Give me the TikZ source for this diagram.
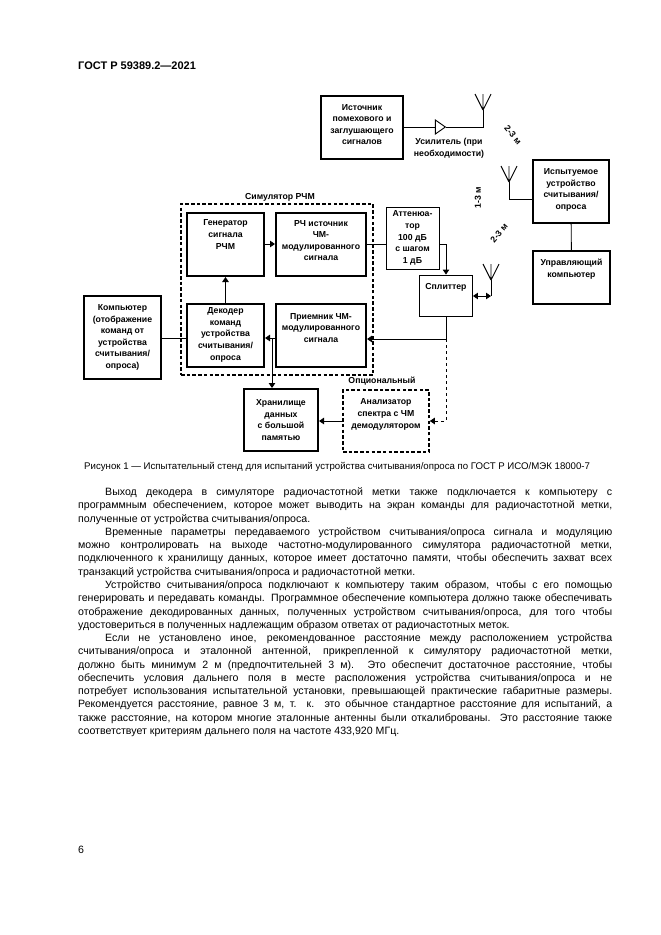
\documentclass[tikz,border=0pt]{standalone}
\usepackage{fontspec}
\setmainfont{Liberation Sans}
\usetikzlibrary{arrows.meta,shapes.geometric,calc}
\newcommand{\dropup}[1]{\rule[-#1pt]{0pt}{0pt}}
\newcommand{\antennaat}[1]{\draw[conn] (#1) -- ++(0,-16) (#1) -- ++(-8,-16) (#1) -- ++(8,-16);}
\tikzset{
  lab/.style={font=\bfseries\fontsize{8.7}{11.6}\selectfont,align=center,inner sep=0pt},
  thickbox/.style={draw,line width=2pt,inner sep=0pt,font=\fontsize{8.7}{11.6}\selectfont\bfseries,align=center},
  thinbox/.style={draw,line width=0.9pt,inner sep=0pt,font=\fontsize{8.7}{11.6}\selectfont\bfseries,align=center},
  dashbox/.style={draw,line width=1.6pt,dash pattern=on 3.5pt off 2.2pt,inner sep=0pt,font=\fontsize{8.7}{11.6}\selectfont\bfseries,align=center},
  conn/.style={line width=0.9pt},
  arr/.style={conn,-{Triangle[length=5pt,width=6.5pt]}},
  body/.style={anchor=north west,inner sep=0pt,text width=534pt,font=\fontsize{10.6}{13.27}\selectfont,align=justify},
}
\begin{document}
\begin{tikzpicture}[x=1pt,y=-1pt]
\path[fill=white,use as bounding box] (0,0) rectangle (661,935);
% page text
\node[anchor=west,inner sep=0pt,font=\bfseries\fontsize{11}{13}\selectfont] (hdr) at (78,66) {ГОСТ Р 59389.2—2021};
\node[anchor=west,inner sep=0pt,font=\fontsize{9.65}{11}\selectfont] (cap) at (84,467) {Рисунок 1 — Испытательный стенд для испытаний устройства считывания/опроса по ГОСТ Р ИСО/МЭК 18000-7};
\node[anchor=west,inner sep=0pt,font=\fontsize{10.6}{12}\selectfont] (pg) at (78,850) {6};
\node[body] (txt) at (78,487.5) {\setlength{\parindent}{27pt}\tolerance=10000\hbadness=10000\hfuzz=20pt\indent
Выход декодера в симуляторе радиочастотной метки также подключается к компьютеру с\linebreak
программным обеспечением, которое может выводить на экран команды для радиочастотной метки,\linebreak
полученные от устройства считывания/опроса.\par
Временные параметры передаваемого устройством считывания/опроса сигнала и модуляцию\linebreak
можно контролировать на выходе частотно-модулированного симулятора радиочастотной метки,\linebreak
подключенного к хранилищу данных, которое имеет достаточно памяти, чтобы обеспечить захват всех\linebreak
транзакций устройства считывания/опроса и радиочастотной метки.\par
Устройство считывания/опроса подключают к компьютеру таким образом, чтобы с его помощью\linebreak
генерировать и передавать команды. Программное обеспечение компьютера должно также обеспечивать\linebreak
отображение декодированных данных, полученных устройством считывания/опроса, для того чтобы\linebreak
удостовериться в полученных надлежащим образом ответах от радиочастотных меток.\par
Если не установлено иное, рекомендованное расстояние между расположением устройства\linebreak
считывания/опроса и эталонной антенной, прикрепленной к симулятору радиочастотной метки,\linebreak
должно быть минимум 2 м (предпочтительней 3 м). Это обеспечит достаточное расстояние, чтобы\linebreak
обеспечить условия дальнего поля в месте расположения устройства считывания/опроса и не\linebreak
потребует использования испытательной установки, превышающей практические габаритные размеры.\linebreak
Рекомендуется расстояние, равное 3 м, т. к. это обычное стандартное расстояние для испытаний, а\linebreak
также расстояние, на котором многие эталонные антенны были откалиброваны. Это расстояние также\linebreak
соответствует критериям дальнего поля на частоте 433,920 МГц.\par};
% dashed groups
\node[dashbox,minimum width=192pt,minimum height=171pt] (sim) at (277,289.5) {};
\node[dashbox,minimum width=86pt,minimum height=62pt] (ana) at (386,421) {Анализатор\\спектра с ЧМ\\демодулятором\dropup{15}};
\node[lab] (simlab) at (280,197) {Симулятор РЧМ};
\node[lab] (optlab) at (382,381) {Опциональный};
% boxes
\node[thickbox,minimum width=82pt,minimum height=63pt] (src) at (362,127.5) {Источник\\помехового и\\заглушающего\\сигналов\dropup{6}};
\node[thickbox,minimum width=76pt,minimum height=63pt] (dut) at (571,191.5) {Испытуемое\\устройство\\считывания/\\опроса\dropup{5}};
\node[thickbox,minimum width=77pt,minimum height=53pt] (ctl) at (571.5,277.5) {Управляющий\\компьютер\dropup{19}};
\node[thinbox,minimum width=53pt,minimum height=62pt] (att) at (412.5,238) {Аттенюа-\\тор\\100 дБ\\с шагом\\1 дБ};
\node[thinbox,minimum width=53pt,minimum height=41pt] (spl) at (446,295.5) {Сплиттер\dropup{18}};
\node[thickbox,minimum width=77pt,minimum height=63pt] (gen) at (225.5,244.5) {Генератор\\сигнала\\РЧМ\dropup{20}};
\node[thickbox,minimum width=90pt,minimum height=63pt] (rf) at (321,244.5) {РЧ источник\\ЧМ-\\модулированного\\сигнала\dropup{8}};
\node[thickbox,minimum width=77pt,minimum height=63pt] (dec) at (225.5,335.5) {Декодер\\команд\\устройства\\считывания/\\опроса\dropup{3}};
\node[thickbox,minimum width=90pt,minimum height=63pt] (rcv) at (321,335.5) {Приемник ЧМ-\\модулированного\\сигнала\dropup{15}};
\node[thickbox,minimum width=77pt,minimum height=83pt] (pc) at (122.5,337.5) {Компьютер\\(отображение\\команд от\\устройства\\считывания/\\опроса)};
\node[thickbox,minimum width=74pt,minimum height=62pt] (sto) at (281,420) {Хранилище\\данных\\с большой\\памятью};
% amplifier
\node[draw,line width=0.9pt,isosceles triangle,isosceles triangle apex angle=70,isosceles triangle stretches,minimum width=14pt,minimum height=10pt,inner sep=0pt] (amp) at (439,127) {};
\node[lab] (amplab) at (449,148) {Усилитель (при\\необходимости)};
% antennas
\coordinate (ant1) at (483,110);
\coordinate (ant2) at (509,182);
\coordinate (ant3) at (491,280);
\antennaat{ant1}
\antennaat{ant2}
\antennaat{ant3}
% distance labels
\node[lab,rotate=-50] (d1) at (513,135) {2-3 м};
\node[lab,rotate=90] (d2) at (478,198) {1-3 м};
\node[lab,rotate=50] (d3) at (499,233) {2-3 м};
% connectors
\draw[conn] (src.east |- amp) -- (amp.west);
\draw[conn] (amp.east) -| (ant1);
\draw[conn] (dut.west |- 0,199) -| (ant2);
\draw[conn] (dut) -- (ctl);
\draw[conn] (rf.east |- 0,244) -- (att.west |- 0,244);
\draw[arr] (gen.east |- 0,244) -- (rf.west |- 0,244);
\draw[arr] (dec.north) -- (gen.south);
\draw[conn] (pc.east |- 0,338) -- (dec.west |- 0,338);
\coordinate (tap) at (272,338);
\coordinate (junc) at (446,339);
\draw[arr] (rcv.west |- 0,338) -- (dec.east |- 0,338);
\draw[arr] (tap) -- (tap |- sto.north);
\draw[arr] (att.east |- 0,244) -| (spl.north);
\draw[conn,{Triangle[length=5pt,width=6.5pt]}-{Triangle[length=5pt,width=6.5pt]}] (spl.east |- 0,296) -- (ant3 |- 0,296);
\draw[conn] (ant3) -- (ant3 |- 0,296);
\draw[conn] (spl.south) -- (junc);
\draw[arr] (junc) -- (rcv.east |- junc);
\draw[arr,dashed] (junc) |- (ana.east);
\draw[arr] (ana.west) -- (sto.east |- ana.west);
\end{tikzpicture}
\end{document}
